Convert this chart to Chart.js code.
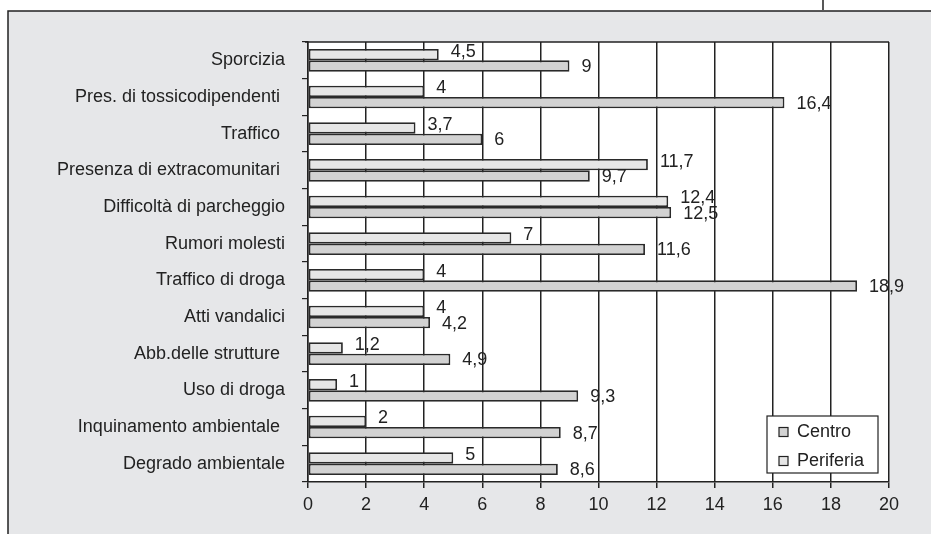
<!DOCTYPE html>
<html>
<head>
<meta charset="utf-8">
<script src="https://cdn.jsdelivr.net/npm/chart.js@4.4.1/dist/chart.umd.min.js"></script>
<style>
  html, body { margin: 0; padding: 0; background: #fff; }
  canvas { display: block; }
</style>
</head>
<body>
<canvas id="chart" width="931" height="534"></canvas>
<script>
// categories (trailing spaces kept as in the original labels)
const categories = [
  "Sporcizia",
  "Pres. di tossicodipendenti ",
  "Traffico ",
  "Presenza di extracomunitari ",
  "Difficoltà di parcheggio",
  "Rumori molesti",
  "Traffico di droga",
  "Atti vandalici",
  "Abb.delle strutture ",
  "Uso di droga",
  "Inquinamento ambientale ",
  "Degrado ambientale"
];
const periferia = [4.5, 4, 3.7, 11.7, 12.4, 7, 4, 4, 1.2, 1, 2, 5];
const centro = [9, 16.4, 6, 9.7, 12.5, 11.6, 18.9, 4.2, 4.9, 9.3, 8.7, 8.6];
const legendOrder = ["Centro", "Periferia"];

const INK = "#222";
const FONT = '"Liberation Sans", Arial, sans-serif';

Chart.defaults.font.family = FONT;
Chart.defaults.font.size = 18;
Chart.defaults.color = INK;

const panelPlugin = {
  id: "panel",
  beforeDraw(chart) {
    const ctx = chart.ctx;
    const a = chart.chartArea;
    ctx.save();
    ctx.fillStyle = "#fff";
    ctx.fillRect(0, 0, chart.width, chart.height);
    ctx.fillStyle = "#e6e7e9";
    ctx.fillRect(8, 11, chart.width - 8, chart.height - 11);
    ctx.strokeStyle = INK;
    ctx.lineWidth = 1.5;
    ctx.beginPath();
    ctx.moveTo(8, chart.height);
    ctx.lineTo(8, 11);
    ctx.lineTo(chart.width, 11);
    ctx.moveTo(823, 0);
    ctx.lineTo(823, 10);
    ctx.stroke();
    ctx.fillStyle = "#fff";
    ctx.fillRect(a.left, a.top, a.right - a.left, a.bottom - a.top);
    ctx.restore();
  },
  afterDraw(chart) {
    const ctx = chart.ctx;
    const a = chart.chartArea;
    ctx.save();
    ctx.strokeStyle = INK;
    ctx.lineWidth = 1.5;
    ctx.beginPath();
    ctx.moveTo(a.left - 3, a.top);
    ctx.lineTo(a.right, a.top);
    ctx.stroke();
    ctx.restore();
  }
};

const valueLabels = {
  id: "valueLabels",
  afterDatasetsDraw(chart) {
    const ctx = chart.ctx;
    ctx.save();
    ctx.font = "18px " + FONT;
    ctx.fillStyle = INK;
    ctx.textAlign = "left";
    ctx.textBaseline = "middle";
    chart.data.datasets.forEach((ds, di) => {
      const meta = chart.getDatasetMeta(di);
      meta.data.forEach((el, i) => {
        const txt = String(ds.data[i]).replace(".", ",");
        const dy = ds.label === "Periferia" ? -3 : 1;
        ctx.fillText(txt, el.x + 12, el.y + dy);
      });
    });
    ctx.restore();
  }
};

const boxLegend = {
  id: "boxLegend",
  afterDraw(chart) {
    const ctx = chart.ctx;
    const x = 767, y = 416, w = 111, h = 57;
    ctx.save();
    ctx.fillStyle = "#fff";
    ctx.fillRect(x, y, w, h);
    ctx.strokeStyle = INK;
    ctx.lineWidth = 1.2;
    ctx.strokeRect(x, y, w, h);
    ctx.font = "18px " + FONT;
    ctx.textBaseline = "middle";
    legendOrder.forEach((name, k) => {
      const ds = chart.data.datasets.find(d => d.label === name);
      const cy = y + 16 + k * 29;
      ctx.fillStyle = ds.backgroundColor;
      ctx.fillRect(x + 12, cy - 4.5, 9, 9);
      ctx.strokeRect(x + 12, cy - 4.5, 9, 9);
      ctx.fillStyle = INK;
      ctx.fillText(name, x + 30, cy);
    });
    ctx.restore();
  }
};

new Chart(document.getElementById("chart").getContext("2d"), {
  type: "bar",
  data: {
    labels: categories,
    datasets: [
      {
        label: "Periferia",
        data: periferia,
        backgroundColor: "#e6e6e6",
        borderColor: "#2a2a2a",
        borderWidth: 1.8,
        borderSkipped: false,
        categoryPercentage: 0.62,
        barPercentage: 1.0
      },
      {
        label: "Centro",
        data: centro,
        backgroundColor: "#d2d2d2",
        borderColor: "#2a2a2a",
        borderWidth: 1.8,
        borderSkipped: false,
        categoryPercentage: 0.62,
        barPercentage: 1.0
      }
    ]
  },
  options: {
    indexAxis: "y",
    responsive: false,
    animation: false,
    layout: { padding: { top: 42, right: 42, left: 0, bottom: 0 } },
    plugins: {
      legend: { display: false },
      tooltip: { enabled: false }
    },
    scales: {
      x: {
        min: 0,
        max: 20,
        ticks: { stepSize: 2, padding: 6, font: { size: 18 } },
        grid: { color: INK, lineWidth: 1.5, tickLength: 6 },
        border: { color: INK, width: 1.5 },
        afterFit(s) { s.height = 52; }
      },
      y: {
        ticks: { padding: 17, font: { size: 18 } },
        grid: { drawOnChartArea: false, color: INK, lineWidth: 1.2, tickLength: 6, offset: true },
        border: { color: INK, width: 1.5 },
        afterFit(s) { s.width = 308; }
      }
    }
  },
  plugins: [panelPlugin, valueLabels, boxLegend]
});
</script>
</body>
</html>
